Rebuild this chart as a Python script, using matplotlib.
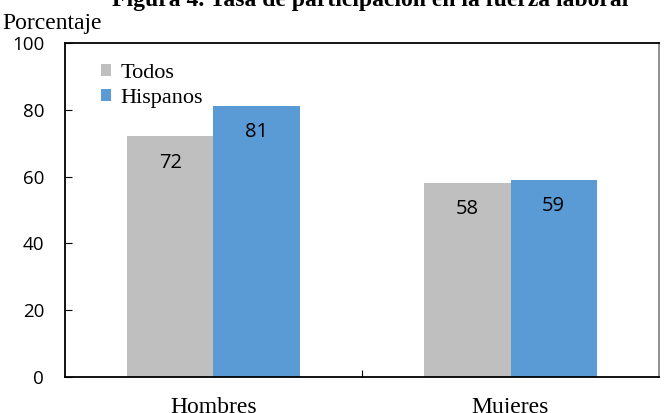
import numpy as np
import matplotlib
matplotlib.use('Agg')
from matplotlib import pyplot as plt

categorias = ['Hombres', 'Mujeres']
series = ['Todos', 'Hispanos']
todos = [72, 58]
hispanos = [81, 59]
colores = ['#BFBFBF', '#5B9BD5']

serif = ['Liberation Serif', 'DejaVu Serif']
sans = ['Open Sans', 'DejaVu Sans']

fig = plt.figure(figsize=(6.65, 4.13), dpi=100)
ax = fig.add_axes([0.0977, 0.0872, 0.8933, 0.8088])

x = np.arange(len(categorias))
w = 0.29
b1 = ax.bar(x - w/2, todos, w, color=colores[0], label=series[0])
b2 = ax.bar(x + w/2, hispanos, w, color=colores[1], label=series[1])

for bars, vals in ((b1, todos), (b2, hispanos)):
    for r, v in zip(bars, vals):
        ax.text(r.get_x() + r.get_width()/2, v - 4.8, str(v), ha='center', va='top',
                fontsize=14.5, family=sans, color='black')

ax.set_xlim(-0.5, 1.5)
ax.set_ylim(0, 100)
ax.set_yticks([0, 20, 40, 60, 80, 100])
ax.set_xticks([0.5])
ax.set_xticklabels([''])
ax.tick_params(axis='y', direction='in', length=5, labelsize=13.5, pad=15)
ax.tick_params(axis='x', direction='in', length=5)
for t in ax.get_yticklabels():
    t.set_family(sans)
for xi, c in zip(x, categorias):
    ax.text(xi, -6, c, ha='center', va='top', fontsize=17, family=serif,
            transform=ax.transData)
for s in ax.spines.values():
    s.set_linewidth(1.3)
ax.spines['right'].set_color('#888888')

ax.legend(loc='upper left', bbox_to_anchor=(0.045, 0.965), frameon=False,
          prop={'family': serif, 'size': 16}, handlelength=0.45, handleheight=0.45,
          handletextpad=0.45, labelspacing=0.3, borderaxespad=0)

fig.text(0.003, 0.93, 'Porcentaje', fontsize=17, family=serif, va='baseline', ha='left')
fig.text(0.556, 0.986, 'Figura 4. Tasa de participación en la fuerza laboral',
         fontsize=17, family=serif, weight='bold', ha='center', va='baseline')

fig.savefig('out.png', dpi=100)
